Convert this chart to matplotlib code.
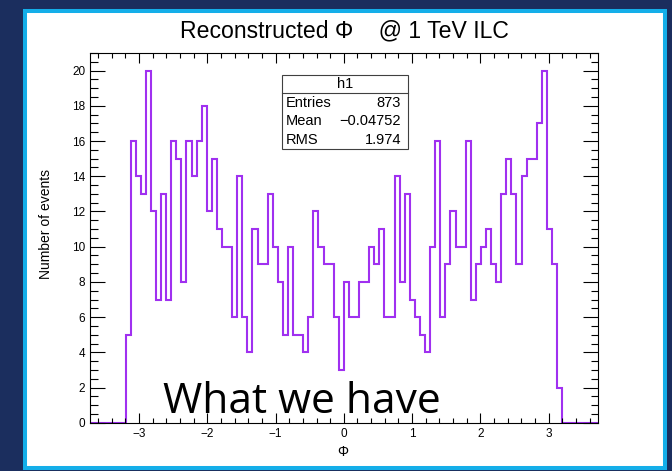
import numpy as np
import matplotlib
matplotlib.use("Agg")
import matplotlib.pyplot as plt
from matplotlib.patches import Rectangle
from matplotlib.ticker import MultipleLocator

# ---- data ----
x_range = [-3.72, 3.72]
n_bins = 100
leading_zero_bins = 7
trailing_zero_bins = 7
filled_counts = [
    5, 16, 14, 13, 20, 12, 7, 13, 7, 16,
    15, 8, 16, 14, 16, 18, 12, 15, 11, 10,
    10, 6, 14, 6, 4, 11, 9, 9, 13, 10,
    8, 5, 10, 5, 5, 4, 6, 12, 10, 9,
    9, 6, 3, 8, 6, 6, 8, 8, 10, 9,
    11, 6, 6, 14, 8, 13, 7, 6, 5, 4,
    10, 16, 6, 9, 12, 10, 10, 16, 7, 9,
    10, 11, 9, 8, 13, 15, 13, 9, 14, 15,
    15, 17, 20, 11, 9, 2,
]
stats_labels = ["Entries", "Mean", "RMS"]
stats_values = ["873", "\u22120.04752", "1.974"]
hist_name = "h1"
title = "Reconstructed \u03a6    @ 1 TeV ILC"
xlabel = "\u03a6"
ylabel = "Number of events"
overlay_text = "What we have"

counts = [0] * leading_zero_bins + filled_counts + [0] * trailing_zero_bins
edges = np.linspace(x_range[0], x_range[1], n_bins + 1)

# ---- figure ----
W, H = 672, 471
fig = plt.figure(figsize=(W / 100, H / 100), dpi=100, facecolor="#1b2e5e")

def fx(px):
    return px / W

def fy(py):
    return 1 - py / H

# white slide panel with cyan border
panel = Rectangle((fx(25), fy(468)), fx(665) - fx(25), fy(11) - fy(468),
                  transform=fig.transFigure, facecolor="white",
                  edgecolor="#14aee9", linewidth=2.9, zorder=-10)
fig.patches.append(panel)

ax = fig.add_axes([fx(90), fy(422.7), fx(597.7) - fx(90), fy(53.1) - fy(422.7)])
ax.set_zorder(1)
ax.set_facecolor("white")
ax.stairs(counts, edges, color="#a030f0", linewidth=1.5)
ax.set_xlim(x_range)
ax.set_ylim(0, 21)

font = "Liberation Sans"
ax.xaxis.set_major_locator(MultipleLocator(1))
ax.xaxis.set_minor_locator(MultipleLocator(0.2))
ax.yaxis.set_major_locator(MultipleLocator(2))
ax.yaxis.set_minor_locator(MultipleLocator(0.5))
ax.tick_params(axis="x", which="major", direction="in", length=7.2, width=0.8,
               top=True, bottom=True, labelsize=8.5, pad=4)
ax.tick_params(axis="x", which="minor", direction="in", length=3.6, width=0.8,
               top=True, bottom=True)
ax.tick_params(axis="y", which="major", direction="in", length=10.8, width=0.8,
               left=True, right=True, labelsize=8.5, pad=3.5)
ax.tick_params(axis="y", which="minor", direction="in", length=5.4, width=0.8,
               left=True, right=True)
for lab in ax.get_xticklabels() + ax.get_yticklabels():
    lab.set_fontfamily(font)
for sp in ax.spines.values():
    sp.set_linewidth(0.8)
    sp.set_color("black")

# axis titles
fig.text(fx(46), fy(224), ylabel, rotation=90, ha="center", va="center",
         fontsize=10, family=font)
fig.text(fx(343), fy(452), xlabel, ha="center", va="center",
         fontsize=10, family=font)

# title
fig.text(fx(344), fy(31), title, ha="center", va="center",
         fontsize=16.6, family=font)

# stats box
bx0, bx1, by0, by1, bdiv = 282, 408, 75, 149, 93.3
box = Rectangle((fx(bx0), fy(by1)), fx(bx1) - fx(bx0), fy(by0) - fy(by1),
                transform=fig.transFigure, facecolor="white",
                edgecolor="#404040", linewidth=0.8, zorder=5)
fig.patches.append(box)
fig.add_artist(plt.Line2D([fx(bx0), fx(bx1)], [fy(bdiv), fy(bdiv)],
                          transform=fig.transFigure, color="#404040",
                          linewidth=0.8, zorder=6))
fig.text(fx((bx0 + bx1) / 2), fy(84.5), hist_name, ha="center", va="center",
         fontsize=10.5, family=font, zorder=7)
for i, (lab, val) in enumerate(zip(stats_labels, stats_values)):
    yy = fy(102.5 + i * 18.8)
    fig.text(fx(286), yy, lab, ha="left", va="center", fontsize=10.5,
             family=font, zorder=7)
    fig.text(fx(401), yy, val, ha="right", va="center", fontsize=10.5,
             family=font, zorder=7)

# slide overlay text
fig.text(fx(163), fy(413), overlay_text, ha="left", va="baseline",
         fontsize=30.6, family="Open Sans", color="black", zorder=8)

fig.savefig("out.png", dpi=100, facecolor=fig.get_facecolor())
